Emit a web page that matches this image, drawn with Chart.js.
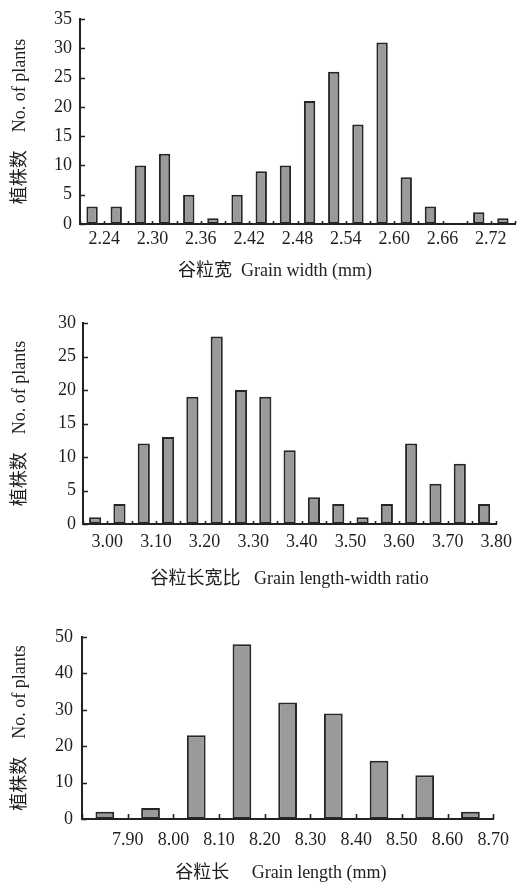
<!DOCTYPE html>
<html>
<head>
<meta charset="utf-8">
<script src="https://cdn.jsdelivr.net/npm/chart.js@4.4.1/dist/chart.umd.min.js"></script>
<style>
    html, body { margin: 0; padding: 0; background: #fff; }
    #wrap { position: relative; width: 519px; height: 884px; }
    canvas { position: absolute; left: 0; }
</style>
</head>
<body>
<div id="wrap">
    <canvas id="widthChart" width="519" height="290" style="top:0"></canvas>
    <canvas id="ratioChart" width="519" height="310" style="top:290px"></canvas>
    <canvas id="lengthChart" width="519" height="284" style="top:600px"></canvas>
</div>
<script>
// grain width (mm): lower edge of each bin, counts, labelled ticks
const widthBins = [2.21, 2.24, 2.27, 2.30, 2.33, 2.36, 2.39, 2.42, 2.45, 2.48, 2.51, 2.54, 2.57, 2.60, 2.63, 2.66, 2.69, 2.72];
const widthStep = 0.03;
const widthCounts = [3, 3, 10, 12, 5, 1, 5, 9, 10, 21, 26, 17, 31, 8, 3, 0, 2, 1];
const widthTicks = [2.24, 2.30, 2.36, 2.42, 2.48, 2.54, 2.60, 2.66, 2.72];

// grain length-width ratio
const ratioBins = [2.95, 3.00, 3.05, 3.10, 3.15, 3.20, 3.25, 3.30, 3.35, 3.40, 3.45, 3.50, 3.55, 3.60, 3.65, 3.70, 3.75];
const ratioStep = 0.05;
const ratioCounts = [1, 3, 12, 13, 19, 28, 20, 19, 11, 4, 3, 1, 3, 12, 6, 9, 3];
const ratioTicks = [3.00, 3.10, 3.20, 3.30, 3.40, 3.50, 3.60, 3.70, 3.80];

// grain length (mm)
const lengthBins = [7.80, 7.90, 8.00, 8.10, 8.20, 8.30, 8.40, 8.50, 8.60];
const lengthStep = 0.10;
const lengthCounts = [2, 3, 23, 48, 32, 29, 16, 12, 2];
const lengthTicks = [7.90, 8.00, 8.10, 8.20, 8.30, 8.40, 8.50, 8.60, 8.70];

const yTitle = '植株数    No. of plants';
const fontFamily = "'Liberation Serif', 'Noto Sans CJK SC', serif";

Chart.defaults.font.family = fontFamily;
Chart.defaults.font.size = 18;
Chart.defaults.color = '#1e1e1e';

// ticks in these figures point into the plot, so draw them ourselves
const inwardTicks = {
    id: 'inwardTicks',
    afterDatasetsDraw(chart, args, opts) {
        const { ctx, chartArea } = chart;
        const x = chart.scales.x;
        const y = chart.scales.y;
        ctx.save();
        ctx.strokeStyle = '#222';
        ctx.lineWidth = 1.6;
        ctx.beginPath();
        y.ticks.forEach(t => {
            const py = Math.round(y.getPixelForValue(t.value)) + 0.5;
            ctx.moveTo(chartArea.left, py);
            ctx.lineTo(chartArea.left + opts.yLen, py);
        });
        opts.edges.forEach(v => {
            const px = Math.round(x.getPixelForValue(v)) + 0.5;
            ctx.moveTo(px, chartArea.bottom);
            ctx.lineTo(px, chartArea.bottom - opts.xLen);
        });
        ctx.stroke();
        ctx.restore();
    }
};

function makeHist(canvasId, bins, step, counts, ticks, yMax, yStep, xTitle, look) {
    const points = bins.map((b, i) => ({ x: b + step / 2, y: counts[i] }));
    const edges = bins.concat([bins[bins.length - 1] + step]);

    return new Chart(document.getElementById(canvasId), {
        type: 'bar',
        data: {
            datasets: [{
                data: points,
                backgroundColor: '#9a9a9a',
                borderColor: '#262626',
                borderWidth: 2,
                borderSkipped: false,
                categoryPercentage: 1,
                barPercentage: look.barPct
            }]
        },
        options: {
            responsive: false,
            animation: false,
            layout: { padding: look.pad },
            scales: {
                x: {
                    type: 'linear',
                    offset: false,
                    min: edges[0],
                    max: edges[edges.length - 1],
                    afterBuildTicks: s => { s.ticks = ticks.map(v => ({ value: v })); },
                    afterFit: s => { s.height = look.xHeight; },
                    grid: { display: false, drawTicks: false },
                    border: { display: true, color: '#222', width: 2 },
                    ticks: {
                        autoSkip: false,
                        maxRotation: 0,
                        padding: look.xTickPad,
                        callback: v => v.toFixed(2)
                    },
                    title: {
                        display: true,
                        text: xTitle,
                        font: { size: 18 },
                        padding: { top: 0, bottom: look.xTitlePad }
                    }
                },
                y: {
                    min: 0,
                    max: yMax,
                    afterFit: s => { s.width = look.yWidth; },
                    grid: { display: false, drawTicks: false },
                    border: { display: true, color: '#222', width: 2 },
                    ticks: { stepSize: yStep, padding: look.yTickPad },
                    title: {
                        display: true,
                        text: yTitle,
                        font: { size: 18 },
                        padding: { top: 9, bottom: 0 }
                    }
                }
            },
            plugins: {
                legend: { display: false },
                tooltip: { enabled: false },
                inwardTicks: { edges: edges, xLen: look.xLen, yLen: 5 }
            }
        },
        plugins: [inwardTicks]
    });
}

// trailing spaces nudge the first title a bit left of the axis centre, like the original
makeHist('widthChart', widthBins, widthStep, widthCounts, widthTicks, 35, 5,
    '谷粒宽  Grain width (mm)          ',
    { barPct: 0.47, pad: { top: 19, right: 4, left: 0, bottom: 0 }, xHeight: 66, yWidth: 80,
      xTickPad: 4, yTickPad: 8, xTitlePad: 8, xLen: 3 });

makeHist('ratioChart', ratioBins, ratioStep, ratioCounts, ratioTicks, 30, 5,
    '谷粒长宽比   Grain length-width ratio',
    { barPct: 0.5, pad: { top: 33, right: 16, left: 0, bottom: 0 }, xHeight: 76, yWidth: 83,
      xTickPad: 7, yTickPad: 7, xTitlePad: 10, xLen: 3 });

makeHist('lengthChart', lengthBins, lengthStep, lengthCounts, lengthTicks, 50, 10,
    '谷粒长     Grain length (mm)   ',
    { barPct: 0.41, pad: { top: 37, right: 22, left: 0, bottom: 0 }, xHeight: 65, yWidth: 82,
      xTickPad: 10, yTickPad: 9, xTitlePad: 0, xLen: 5 });
</script>
</body>
</html>
